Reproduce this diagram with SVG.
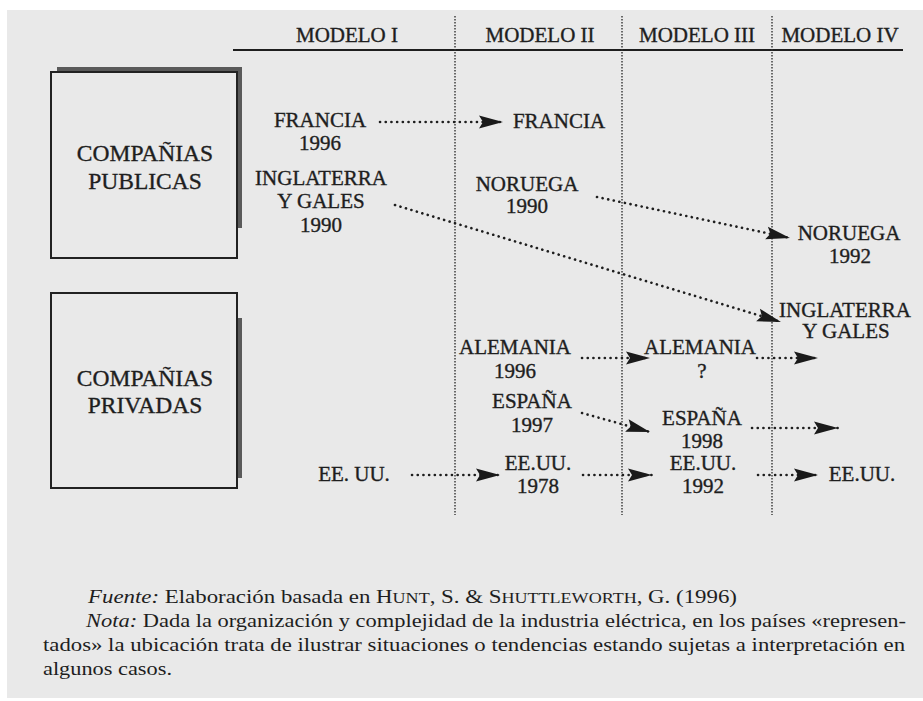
<svg xmlns="http://www.w3.org/2000/svg" width="923" height="701" viewBox="0 0 923 701">
<style>
.lbl{font-size:21px;fill:#1e1e1e;text-anchor:middle;stroke:#1e1e1e;stroke-width:0.35}
.big{font-size:23.5px;fill:#1e1e1e;text-anchor:middle;stroke:#1e1e1e;stroke-width:0.35}
.foot{font-size:19px;fill:#1e1e1e}
.dot{fill:none;stroke:#1e1e1e;stroke-width:2.6;stroke-linecap:round;stroke-dasharray:0.1 5.6}
.vdot{fill:none;stroke:#333;stroke-width:1.4;stroke-dasharray:1.4 1.6}
.box{fill:none;stroke:#222;stroke-width:2}
.shadow{fill:#5a5a5a}
</style>
<defs>
<marker id="ah" markerUnits="userSpaceOnUse" markerWidth="26" markerHeight="14" refX="25" refY="7" orient="auto">
<path d="M1,0.5 L25,7 L1,13.5 L5,7 Z" fill="#1a1a1a"/>
</marker>
</defs>
<rect x="0" y="0" width="923" height="701" fill="#ffffff"/>
<rect x="7" y="10" width="916" height="688" fill="#e9e9e9"/>

<g font-family="Liberation Serif, Times New Roman, serif">
<g id="header">
<line x1="233" y1="50" x2="903" y2="50" stroke="#1e1e1e" stroke-width="2"/>
<text class="lbl" x="347" y="42">MODELO I</text>
<text class="lbl" x="540" y="42">MODELO II</text>
<text class="lbl" x="697" y="42">MODELO III</text>
<text class="lbl" x="840" y="42">MODELO IV</text>
</g>
<g id="columns">
<line class="vdot" x1="455" y1="16" x2="455" y2="515"/>
<line class="vdot" x1="622" y1="16" x2="622" y2="515"/>
<line class="vdot" x1="772" y1="16" x2="772" y2="515"/>
</g>

<g id="publicas">
<rect class="shadow" x="57" y="67" width="185" height="5"/>
<rect class="shadow" x="237" y="67" width="5" height="161"/>
<rect class="box" x="51" y="72" width="186" height="186"/>
<text class="big" x="145" y="161">COMPAÑIAS</text>
<text class="big" x="145" y="189">PUBLICAS</text>
</g>
<g id="privadas">
<rect class="shadow" x="237" y="318" width="5" height="160"/>
<rect class="box" x="51" y="293" width="186" height="195"/>
<text class="big" x="145" y="386">COMPAÑIAS</text>
<text class="big" x="145" y="413">PRIVADAS</text>
</g>

<g id="francia1"><text class="lbl" x="320" y="127">FRANCIA</text><text class="lbl" x="320" y="150">1996</text></g>
<g id="inglaterra1"><text class="lbl" x="321" y="185">INGLATERRA</text><text class="lbl" x="321" y="208">Y GALES</text><text class="lbl" x="321" y="232">1990</text></g>
<g id="eeuu1"><text class="lbl" x="354" y="481">EE. UU.</text></g>

<g id="francia2"><text class="lbl" x="559" y="128">FRANCIA</text></g>
<g id="noruega2"><text class="lbl" x="527" y="191">NORUEGA</text><text class="lbl" x="527" y="213">1990</text></g>
<g id="alemania2"><text class="lbl" x="515" y="354">ALEMANIA</text><text class="lbl" x="515" y="378">1996</text></g>
<g id="espana2"><text class="lbl" x="532" y="408">ESPAÑA</text><text class="lbl" x="532" y="432">1997</text></g>
<g id="eeuu2"><text class="lbl" x="538" y="470">EE.UU.</text><text class="lbl" x="538" y="493">1978</text></g>

<g id="alemania3"><text class="lbl" x="700" y="354">ALEMANIA</text><text class="lbl" x="702" y="378">?</text></g>
<g id="espana3"><text class="lbl" x="702" y="425">ESPAÑA</text><text class="lbl" x="702" y="448">1998</text></g>
<g id="eeuu3"><text class="lbl" x="703" y="470">EE.UU.</text><text class="lbl" x="703" y="493">1992</text></g>

<g id="noruega4"><text class="lbl" x="849" y="240">NORUEGA</text><text class="lbl" x="850" y="263">1992</text></g>
<g id="inglaterra4"><text class="lbl" x="845" y="317">INGLATERRA</text><text class="lbl" x="846" y="338">Y GALES</text></g>
<g id="eeuu4"><text class="lbl" x="862" y="481">EE.UU.</text></g>

<g id="connectors">
<path class="dot" d="M380,122 L503,122" marker-end="url(#ah)"/>
<path class="dot" d="M395,205 L781,322" marker-end="url(#ah)"/>
<path class="dot" d="M597,197 L790,238" marker-end="url(#ah)"/>
<path class="dot" d="M582,358 L650,358" marker-end="url(#ah)"/>
<path class="dot" d="M757,358 L818,358" marker-end="url(#ah)"/>
<path class="dot" d="M582,413 L650,432" marker-end="url(#ah)"/>
<path class="dot" d="M752,428 L838,428" marker-end="url(#ah)"/>
<path class="dot" d="M412,475 L500,475" marker-end="url(#ah)"/>
<path class="dot" d="M583,475 L652,475" marker-end="url(#ah)"/>
<path class="dot" d="M758,475 L818,475" marker-end="url(#ah)"/>
</g>

<g id="footer">
<text class="foot" x="88" y="603" textLength="649" lengthAdjust="spacingAndGlyphs"><tspan font-style="italic">Fuente:</tspan> Elaboración basada en H<tspan font-size="15">UNT</tspan>, S. &amp; S<tspan font-size="15">HUTTLEWORTH</tspan>, G. (1996)</text>
<text class="foot" x="86" y="627" textLength="820" lengthAdjust="spacingAndGlyphs"><tspan font-style="italic">Nota:</tspan> Dada la organización y complejidad de la industria eléctrica, en los países «represen-</text>
<text class="foot" x="43" y="651" textLength="862" lengthAdjust="spacingAndGlyphs">tados» la ubicación trata de ilustrar situaciones o tendencias estando sujetas a interpretación en</text>
<text class="foot" x="43" y="675" textLength="129" lengthAdjust="spacingAndGlyphs">algunos casos.</text>
</g>
</g>
</svg>
